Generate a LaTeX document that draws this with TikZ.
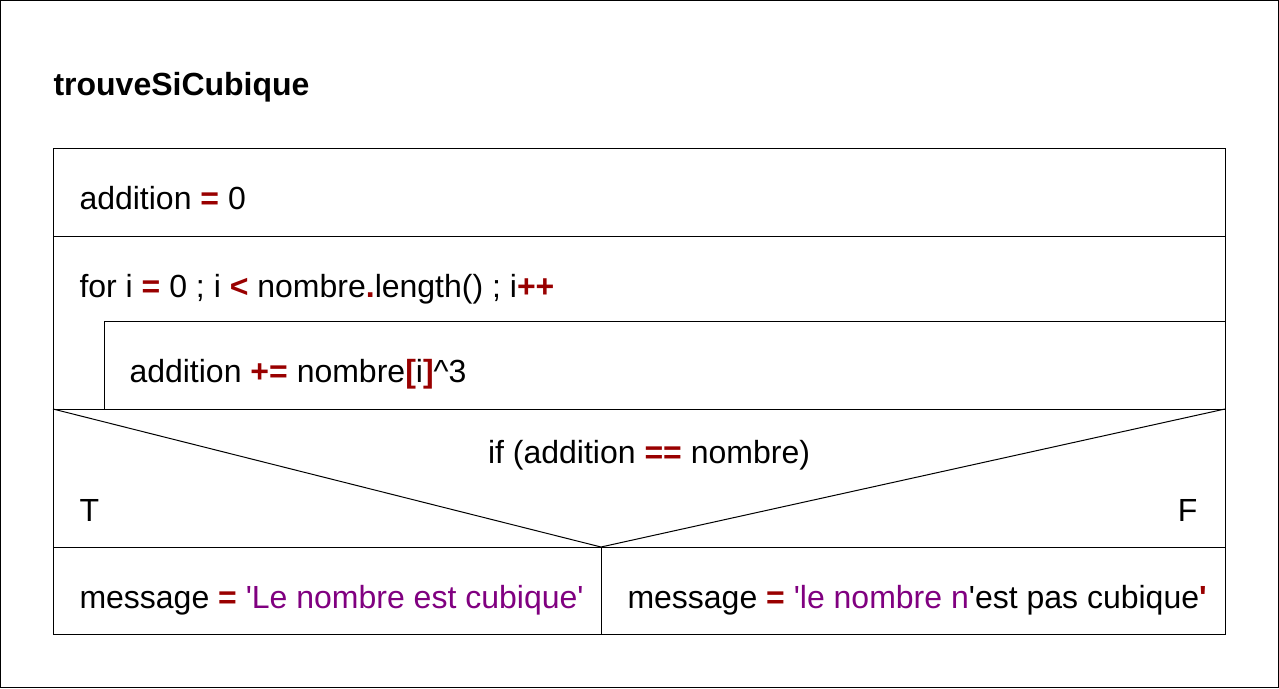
\documentclass[tikz,border=0pt]{standalone}
\usepackage{fontspec}
\setmainfont{Liberation Sans}[Ligatures=TeXOff]
\definecolor{opred}{RGB}{153,0,0}
\definecolor{strpurple}{RGB}{128,0,128}
\newcommand{\op}[1]{\textcolor{opred}{\textbf{#1}}}
\newcommand{\chaine}[1]{\textcolor{strpurple}{#1}}
\tikzset{
	txt/.style={anchor=base west,inner sep=0pt,font=\fontsize{32}{38}\selectfont},
	txtr/.style={txt,anchor=base east},
	txtc/.style={txt,anchor=base}
}

\begin{document}
\begin{tikzpicture}[x=1pt,y=-1pt,line width=1pt]
		\useasboundingbox (0,0) rectangle (1279,688);
		\draw (0.5,0.5) rectangle (1278.5,687.5);
		\node[txt,font=\fontsize{32}{38}\selectfont\bfseries] (titre) at (53,95) {trouveSiCubique};
		
		\draw (53,148) rectangle (1225,634);
		\foreach \y in{236,409,547}{
			\draw (53,\y)--(1225,\y);
		}
		\draw (104,409)--(104,321)--(1225,321);
		\draw (53,409)--(601,547)--(1225,409);
		\draw (601,547)--(601,634);
		
		\node[txt] (init) at (79,209.5) {addition \op{=} 0};
		\node[txt] (boucle) at (79,297.5) {for i \op{=} 0 ; i \op{<} nombre\op{.}length() ; i\op{++}};
		\node[txt] (corps) at (129,382.5) {addition \op{+=} nombre\op{[}i\op{]}\^{}3};
		\node[txtc] (cond) at (649,463) {if (addition \op{==} nombre)};
		\node[txt] (vrai) at (79,521) {T};
		\node[txtr] (faux) at (1198,521) {F};
		\node[txt] (msgvrai) at (79,608.5) {message \op{=} \chaine{'Le nombre est cubique'}};
		\node[txt] (msgfaux) at (627,608.5) {message \op{=} \chaine{'le nombre n}'est pas cubique\op{'}};
	\end{tikzpicture}
\end{document}
